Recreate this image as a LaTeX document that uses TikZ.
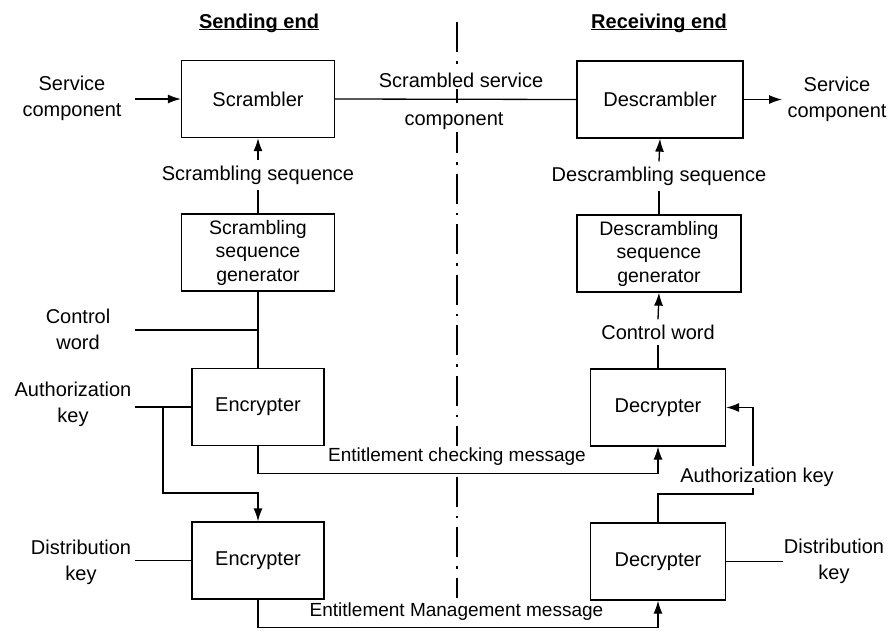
\documentclass[tikz,border=0pt]{standalone}
\usepackage{fontspec}
\setmainfont{Liberation Sans}
\usetikzlibrary{arrows.meta,calc}
\begin{document}
\begin{tikzpicture}[x=1pt,y=-1pt,
  every node/.style={font=\fontsize{20}{26}\selectfont},
  blk/.style={draw,line width=1.3pt,minimum width=#1,minimum height=77pt,inner sep=0pt,align=center},
  gentxt/.style={font=\fontsize{19.5}{23.5}\selectfont},
  lbl/.style={align=center,inner sep=2pt},
  msg/.style={font=\fontsize{19}{22}\selectfont,inner sep=2pt,fill=white},
  ttl/.style={font=\fontsize{20}{24}\selectfont\bfseries,anchor=base},
  conn/.style={line width=1.3pt},
  arr/.style={conn,-{Latex[length=13pt,width=9pt]}},
  divider/.style={line width=1.2pt,dash pattern=on 30pt off 9pt on 2.5pt off 9pt}
]
\useasboundingbox (0,0) rectangle (894,632);

% titles
\node[ttl] (t1) at (259,28) {\underline{\smash{Sending end}}};
\node[ttl] (t2) at (659,28) {\underline{\smash{Receiving end}}};

% divider
\coordinate (divTop) at (457,22);
\coordinate (divBot) at (457,598);
\draw[divider] (divTop) -- (divBot);

% boxes
\node[blk=153pt] (scr) at (258,99) {Scrambler};
\node[blk=153pt,gentxt] (sgen) at (258,252.5) {Scrambling\\sequence\\generator};
\node[blk=132pt] (enc1) at (258,407) {Encrypter};
\node[blk=132pt] (enc2) at (258,560.5) {Encrypter};
\node[blk=166pt] (dscr) at (660,99.5) {Descrambler};
\node[blk=164pt,gentxt] (dgen) at (659,253.5) {Descrambling\\sequence\\generator};
\node[blk=135pt] (dec1) at (658,407.5) {Decrypter};
\node[blk=135pt] (dec2) at (658,561.5) {Decrypter};

% side labels
\node[lbl] (svcL) at (72,98) {Service\\component};
\node[lbl] (cwL) at (78,329) {Control\\word};
\node[lbl] (akL) at (73,404) {Authorization\\key};
\node[lbl] (dkL) at (81,562) {Distribution\\key};
\node[lbl] (svcR) at (837,99) {Service\\component};
\node[lbl] (dkR) at (834,561) {Distribution\\key};

% inline labels
\node[lbl,inner sep=5pt] (scrseq) at (258,175) {Scrambling sequence};
\node[lbl,inner sep=5pt] (dscrseq) at (659,176) {Descrambling sequence};
\node[lbl,inner sep=5pt] (cwR) at (658,332) {Control word};
\node[lbl,fill=white] (ssc1) at (461,80) {Scrambled service};
\node[lbl,fill=white] (ssc2) at (454,121) {component};

% coordinates for free ends
\coordinate (svcLend) at (135,99);
\coordinate (cwEnd) at (135,330);
\coordinate (akEnd) at (135,407);
\coordinate (akBr) at (163,407);
\coordinate (akTurn) at (163,493);
\coordinate (dkEnd) at (135,560.5);
\coordinate (svcRend) at (782,99.5);
\coordinate (dkREnd) at (783,561.5);
\coordinate (akRc) at (753,494);

% sending side connectors
\draw[arr] (svcLend) -- (scr.west);
\draw[arr] (scrseq.north) -- (scr.south);
\draw[conn] (sgen.north) -- (scrseq.south);
\draw[conn] (sgen.south) -- (enc1.north);
\draw[conn] (cwEnd) -- (cwEnd -| sgen.south);
\draw[conn] (akEnd) -- (enc1.west);
\draw[arr] (akBr) -- (akTurn) -| (enc2.north);
\draw[conn] (dkEnd) -- (enc2.west);

% crossing connectors
\draw[conn] (scr.east) -- (dscr.west);
\draw[arr] (enc1.south) -- ++(0,27) -| (dec1.south);
\draw[arr] (enc2.south) -- ++(0,28) -| (dec2.south);

% receiving side connectors
\draw[arr] (dscr.east) -- (svcRend);
\draw[arr] (dscrseq.north) -- (dscr.south);
\draw[conn] (dgen.north) -- (dscrseq.south);
\draw[arr] (cwR.north) -- (dgen.south);
\draw[conn] (dec1.north) -- (cwR.south);
\draw[arr] (dec2.north) |- (akRc) -- (akRc |- dec1.east) -- (dec1.east);
\draw[conn] (dkREnd) -- (dec2.east);

\node[lbl,fill=white] (akR) at (757,477) {Authorization key};
\node[msg] (ecm) at (457,457) {Entitlement checking message};
\node[msg] (emm) at (456.5,612) {Entitlement Management message};
\end{tikzpicture}
\end{document}
